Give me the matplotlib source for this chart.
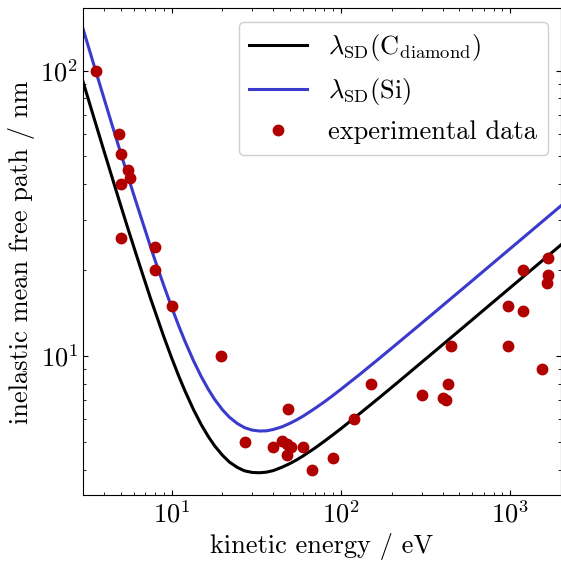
import numpy as np
import matplotlib
matplotlib.use("Agg")
import matplotlib.pyplot as plt
from matplotlib.ticker import NullFormatter

plt.rcParams['font.family'] = 'serif'
plt.rcParams['font.serif'] = ['cmr10', 'DejaVu Serif']
plt.rcParams['mathtext.fontset'] = 'cm'
plt.rcParams['axes.formatter.use_mathtext'] = True
plt.rcParams['axes.unicode_minus'] = False

# curves (kinetic energy in eV, IMFP in nm)
curve_E = [3, 3.5, 4, 4.5, 5, 5.5, 6, 6.5, 7, 7.5, 8, 9, 10, 11, 12, 13.5, 15,
           16.5, 18, 20, 22, 24.5, 27, 30, 33, 36.5, 40, 45, 50, 55, 60, 70, 80,
           90, 100, 130, 170, 220, 300, 400, 550, 750, 1000, 1400, 2000]
lam_diamond = [91.4, 67.5, 52.0, 41.4, 33.8, 28.2, 24.0, 20.7, 18.1, 15.97, 14.3,
               11.69, 9.87, 8.54, 7.55, 6.48, 5.74, 5.22, 4.84, 4.49, 4.25, 4.07,
               3.96, 3.91, 3.90, 3.92, 3.97, 4.08, 4.20, 4.33, 4.47, 4.75, 5.03,
               5.30, 5.56, 6.30, 7.17, 8.14, 9.50, 10.96, 12.85, 15.01, 17.33,
               20.50, 24.51]
lam_si = [140.0, 103.3, 79.5, 63.2, 51.6, 43.0, 36.5, 31.5, 27.5, 24.2, 21.6,
          17.66, 14.86, 12.80, 11.27, 9.61, 8.46, 7.64, 7.04, 6.48, 6.10, 5.80,
          5.61, 5.50, 5.46, 5.47, 5.53, 5.65, 5.81, 5.98, 6.16, 6.54, 6.91,
          7.28, 7.64, 8.64, 9.84, 11.17, 13.02, 15.03, 17.61, 20.57, 23.75,
          28.10, 33.59]

# experimental points
exp_E = [3.6, 4.9, 5.0, 5.5, 5.7, 5.0, 5.0, 8.0, 8.0, 10, 19.5,
         27, 49, 40, 45, 48, 51, 48, 60, 68, 90, 120, 150,
         1670, 1200, 1680, 1650, 975, 1200, 450, 975, 1550, 430, 300, 400, 420]
exp_lam = [100, 60, 51, 45, 42, 40, 26, 24, 20, 15, 10,
           5.0, 6.5, 4.8, 5.05, 4.9, 4.8, 4.5, 4.8, 4.0, 4.4, 6.0, 8.0,
           22, 20, 19.2, 18.0, 15.0, 14.4, 10.8, 10.8, 9.0, 8.0, 7.3, 7.1, 7.0]

fig = plt.figure(figsize=(5.61, 5.61), dpi=100)
ax = fig.add_axes([0.148, 0.117, 0.852, 0.868])

ax.plot(curve_E, lam_diamond, color='black', lw=2.2,
        label=r'$\lambda_\mathrm{SD}(\mathrm{C}_\mathrm{diamond})$')
ax.plot(curve_E, lam_si, color='#3a3acc', lw=2.2,
        label=r'$\lambda_\mathrm{SD}(\mathrm{Si})$')
ax.plot(exp_E, exp_lam, 'o', color='#b00000', ms=7.5, label='experimental data')

ax.set_xscale('log')
ax.set_yscale('log')
ax.set_xlim(3, 2000)
ax.set_ylim(3.25, 165)
ax.yaxis.set_minor_formatter(NullFormatter())
ax.xaxis.set_minor_formatter(NullFormatter())

ax.tick_params(which='both', direction='in', top=True, right=True, labelsize=19)
ax.set_xlabel('kinetic energy / eV', fontsize=19)
ax.set_ylabel('inelastic mean free path / nm', fontsize=19)

ax.legend(loc='upper right', fontsize=19, handlelength=2.2, framealpha=1,
          edgecolor='#d0d0d0')

fig.savefig('out.png', dpi=100)
